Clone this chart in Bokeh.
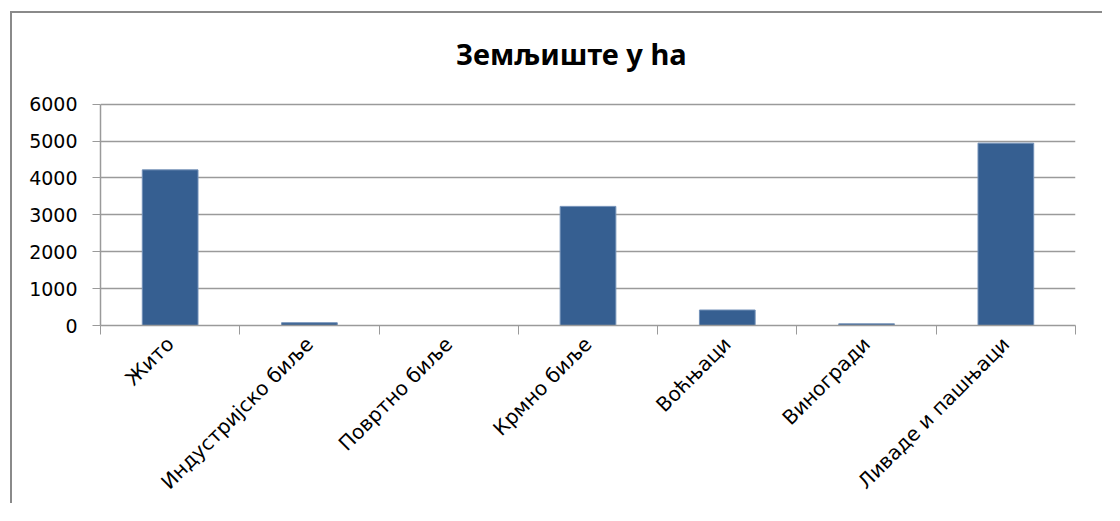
import math
from bokeh.plotting import figure
from bokeh.models import Range1d, FixedTicker, Label
from bokeh.embed import file_html
from bokeh.resources import INLINE

title_text = "Земљиште у ha"
categories = ["Жито", "Индустријско биље", "Повртно биље", "Крмно биље",
              "Воћњаци", "Виногради", "Ливаде и пашњаци"]
values = [4220, 75, 0, 3230, 420, 45, 4945]
y_ticks = [0, 1000, 2000, 3000, 4000, 5000, 6000]

FONT = "DejaVu Sans"
TITLE_FONT = "Noto Sans"
GRAY = "#9a9a9a"
BAR = "#365F91"

x_centers = [i + 0.5 for i in range(len(categories))]
x_bounds = list(range(len(categories) + 1))

# frame reaches the canvas top so the title can live inside it
Y_TOP = 8460

p = figure(width=1092, height=492, output_backend="svg", toolbar_location=None,
           x_range=Range1d(0, len(categories)), y_range=Range1d(0, Y_TOP),
           min_border_left=88, min_border_right=29, min_border_top=0,
           min_border_bottom=178)
p.styles = {"border-left": "2px solid #8a8a8a", "border-top": "2px solid #8a8a8a",
            "margin-left": "10px", "margin-top": "11px"}
p.outline_line_color = None
p.background_fill_color = "white"
p.border_fill_color = "white"

p.vbar(x=x_centers, top=values, bottom=0, width=0.4,
       fill_color=BAR, line_color="#7391b8", line_width=1)

xa = p.xaxis[0]
xa.ticker = FixedTicker(ticks=x_centers, minor_ticks=x_bounds)
xa.major_label_overrides = {c: lab for c, lab in zip(x_centers, categories)}
xa.major_tick_line_color = None
xa.major_tick_in = 0
xa.major_tick_out = 9
xa.minor_tick_in = 0
xa.minor_tick_out = 9
xa.minor_tick_line_color = GRAY
xa.minor_tick_line_width = 1
xa.axis_line_color = GRAY
xa.axis_line_width = 1.5
xa.major_label_orientation = math.pi / 4
xa.major_label_standoff = 6
xa.major_label_text_font = FONT
xa.major_label_text_font_size = "20px"
xa.major_label_text_color = "black"

ya = p.yaxis[0]
ya.ticker = FixedTicker(ticks=y_ticks)
ya.bounds = (y_ticks[0], y_ticks[-1])
ya.major_tick_in = 0
ya.major_tick_out = 8
ya.major_tick_line_color = GRAY
ya.minor_tick_line_color = None
ya.axis_line_color = GRAY
ya.axis_line_width = 1.5
ya.major_label_standoff = 15
ya.major_label_text_font = FONT
ya.major_label_text_font_size = "19px"
ya.major_label_text_color = "black"

p.xgrid.visible = False
p.ygrid.ticker = FixedTicker(ticks=y_ticks)
p.ygrid.grid_line_color = GRAY
p.ygrid.grid_line_width = 1.5

p.add_layout(Label(x=3.38, y=7382, text=title_text, text_align="center",
                   text_baseline="alphabetic", text_font=TITLE_FONT,
                   text_font_style="bold", text_font_size="29px",
                   text_color="black"))

open("out.html", "w").write(file_html(p, INLINE))
